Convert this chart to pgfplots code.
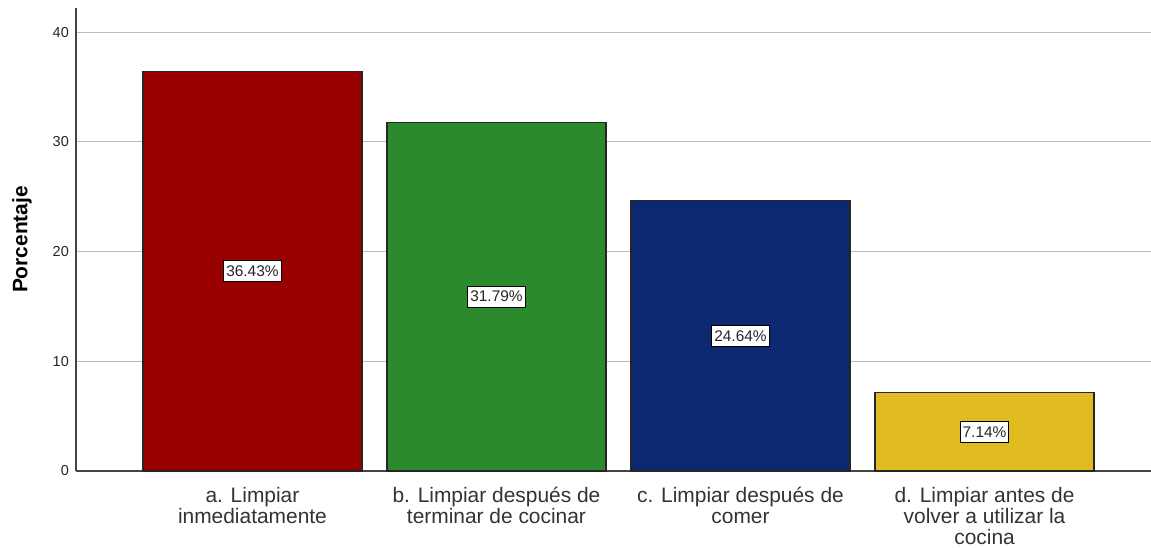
\documentclass[border=0pt]{standalone}
\usepackage{pgfplots}
\usepackage{pgfplotstable}
\pgfplotsset{compat=1.18}
\usepackage{fontspec}
\setmainfont{Liberation Sans}
\definecolor{cred}{HTML}{990000}
\definecolor{cgreen}{HTML}{2B8A2B}
\definecolor{cblue}{HTML}{0B2870}
\definecolor{cyellow}{HTML}{E1BC20}
\definecolor{axgray}{HTML}{444444}
\definecolor{gridgray}{HTML}{BBBBBB}
\definecolor{txt}{HTML}{333333}

\pgfplotstableread{
x y label
0 36.43 36.43\%
1 31.79 31.79\%
2 24.64 24.64\%
3 7.14 7.14\%
}\datatable

\begin{document}
\begin{tikzpicture}
\begin{axis}[
  scale only axis,
  width=1075bp, height=463bp,
  xmin=-0.723, xmax=3.682,
  ymin=0, ymax=42.2,
  axis x line*=bottom, axis y line*=left,
  axis line style={axgray, line width=1.5bp},
  major tick length=0pt,
  ytick={0,10,20,30,40},
  ymajorgrids,
  grid style={gridgray, line width=1bp},
  xtick={0,1,2,3},
  xticklabels={{a. Limpiar\\inmediatamente},{b. Limpiar después de\\terminar de cocinar},{c. Limpiar después de\\comer},{d. Limpiar antes de\\volver a utilizar la\\cocina}},
  xticklabel style={align=center, font=\fontsize{21}{21}\selectfont, text=txt, inner sep=0pt, anchor=north, yshift=-16bp},
  yticklabel style={font=\fontsize{14.5}{16}\selectfont, text=black!85, inner sep=0pt, anchor=east, xshift=-7bp},
  /pgf/number format/assume math mode=true,
  ylabel={\textbf{Porcentaje}},
  every axis y label/.style={at={(axis description cs:0,0.5)}, xshift=-54bp, rotate=90, anchor=center, font=\fontsize{21}{22}\selectfont, text=black},
  clip=false,
]
\addplot[ybar, bar width=0.8975, bar shift=0pt, fill=cred, draw=black!85, line width=1.2bp] coordinates {(0,36.43)};
\addplot[ybar, bar width=0.8975, bar shift=0pt, fill=cgreen, draw=black!85, line width=1.2bp] coordinates {(1,31.79)};
\addplot[ybar, bar width=0.8975, bar shift=0pt, fill=cblue, draw=black!85, line width=1.2bp] coordinates {(2,24.64)};
\addplot[ybar, bar width=0.8975, bar shift=0pt, fill=cyellow, draw=black!85, line width=1.2bp] coordinates {(3,7.14)};
\addplot[only marks, mark=none, point meta=explicit symbolic,
  nodes near coords,
  every node near coord/.style={anchor=center, fill=white, draw=black, line width=1bp, inner xsep=2.5bp, inner ysep=5bp, font=\fontsize{15.5}{17}\selectfont, text=black!85}]
  table[x=x, y expr=\thisrow{y}/2, meta=label] {\datatable};
\end{axis}
\pgfresetboundingbox
\path[use as bounding box] (current axis.south west) ++(-76bp,-77bp) rectangle ++(1151bp,548bp);
\end{tikzpicture}
\end{document}
